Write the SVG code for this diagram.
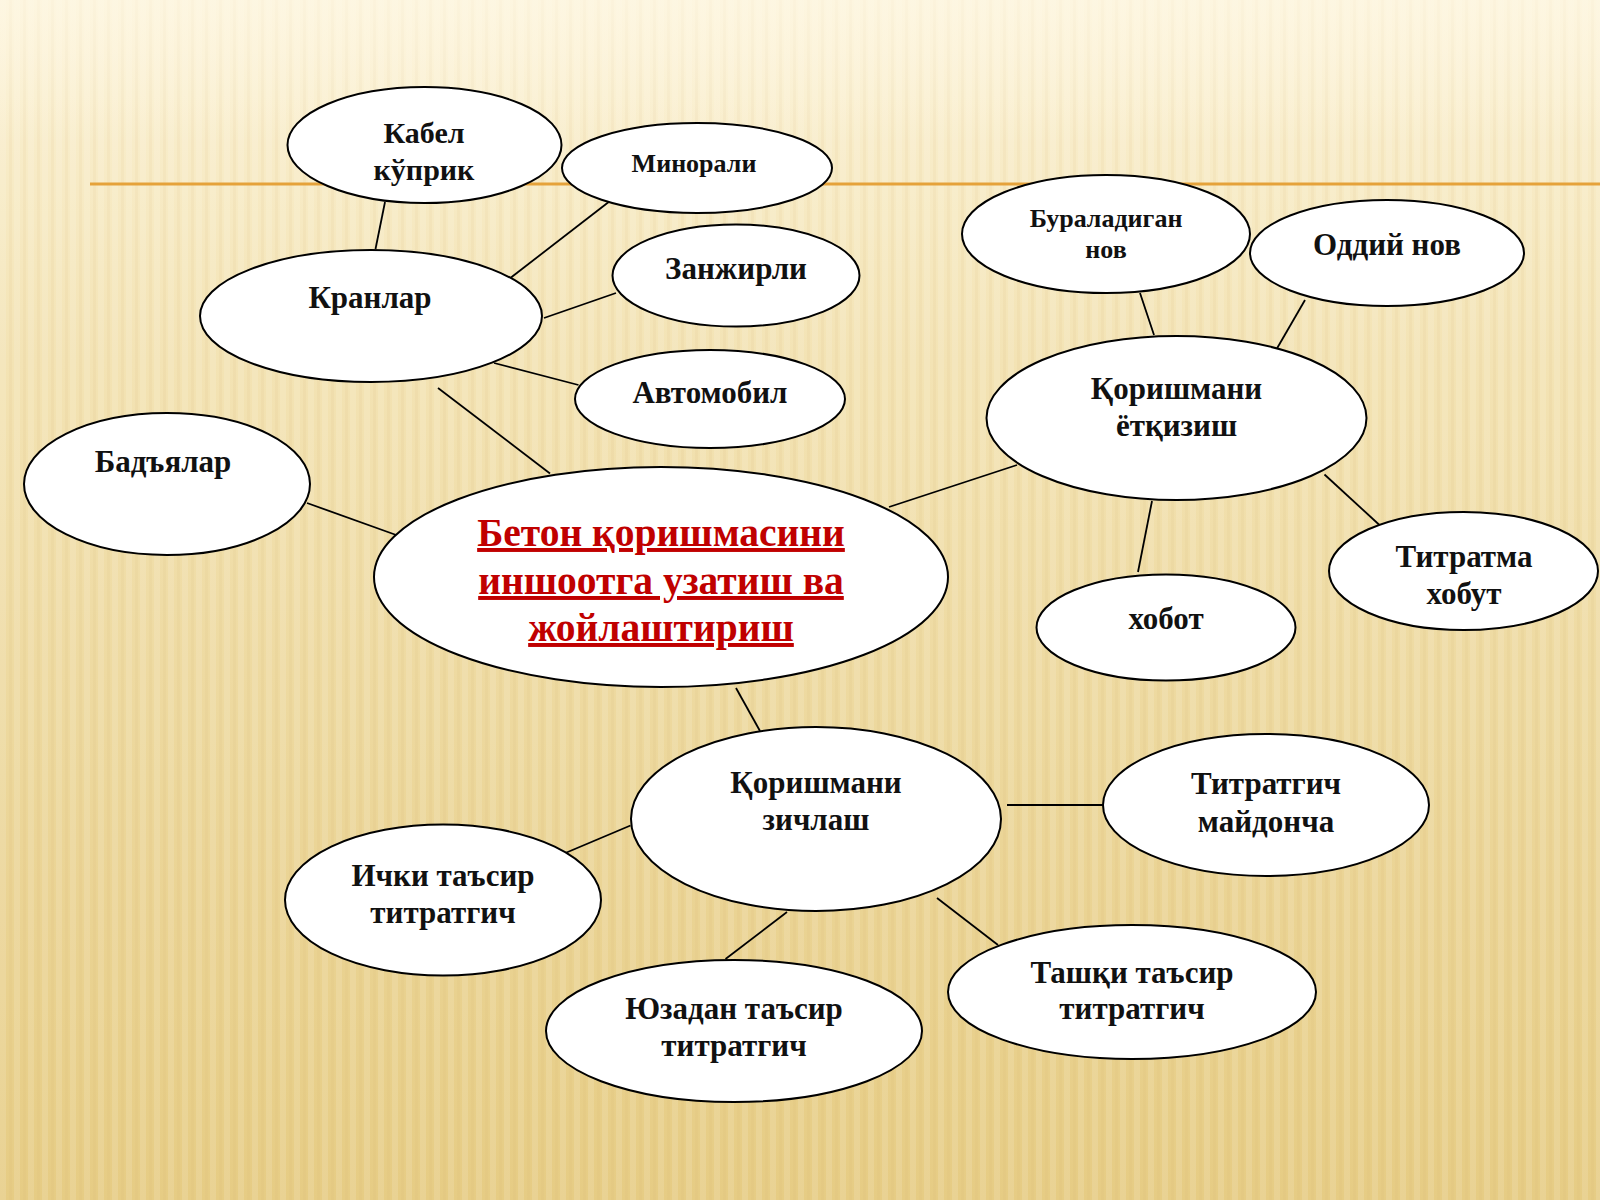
<svg xmlns="http://www.w3.org/2000/svg" width="1600" height="1200" viewBox="0 0 1600 1200">
<defs>
<linearGradient id="bg" x1="0" y1="0" x2="0" y2="1">
<stop offset="0" stop-color="#FBF2D6"/>
<stop offset="0.3" stop-color="#F3E3B4"/>
<stop offset="0.7" stop-color="#EBD597"/>
<stop offset="1" stop-color="#E6CC84"/>
</linearGradient>
<pattern id="stripes" width="14" height="1200" patternUnits="userSpaceOnUse">
<rect x="0" y="0" width="6" height="1200" fill="#FFFFFF" opacity="0.12"/>
<rect x="9" y="0" width="3" height="1200" fill="#C9A860" opacity="0.08"/>
</pattern>
<linearGradient id="fade" x1="0" y1="0" x2="0" y2="1">
<stop offset="0" stop-color="#FFF8E6" stop-opacity="0.6"/>
<stop offset="0.12" stop-color="#FFF8E6" stop-opacity="0"/>
</linearGradient>
</defs>
<style>
.n ellipse{fill:#FFFFFF;stroke:#000000;stroke-width:2}
.t{font-family:"Liberation Serif","DejaVu Serif",serif;font-weight:bold;fill:#111111;text-anchor:middle}
.r{font-family:"Liberation Serif","DejaVu Serif",serif;font-weight:bold;fill:#C00000;text-anchor:middle;text-decoration:underline;font-size:39.5px}
.c line{stroke:#000000;stroke-width:1.8}
</style>
<rect width="1600" height="1200" fill="url(#bg)"/>
<rect width="1600" height="1200" fill="url(#stripes)"/>
<rect width="1600" height="1200" fill="url(#fade)"/>
<line x1="90" y1="184" x2="1600" y2="184" stroke="#E5A23A" stroke-width="3"/>

<g id="connectors" class="c">
<line x1="385" y1="202" x2="375.5" y2="249"/>
<line x1="610" y1="201" x2="511" y2="277.5"/>
<line x1="616" y1="293" x2="544" y2="318"/>
<line x1="578.5" y1="385" x2="494" y2="363"/>
<line x1="438" y1="388" x2="550" y2="473.5"/>
<line x1="307" y1="503" x2="399" y2="536"/>
<line x1="889" y1="507" x2="1017" y2="465"/>
<line x1="1140" y1="293" x2="1154" y2="335"/>
<line x1="1305" y1="300" x2="1275.5" y2="351"/>
<line x1="1324.5" y1="474.5" x2="1380" y2="525.5"/>
<line x1="1152" y1="501" x2="1138" y2="572"/>
<line x1="736" y1="688" x2="760" y2="731"/>
<line x1="1007" y1="805" x2="1104" y2="805"/>
<line x1="630.5" y1="825.5" x2="563" y2="854"/>
<line x1="787" y1="912" x2="725.5" y2="959"/>
<line x1="937" y1="898" x2="998" y2="945"/>
</g>

<g id="kabel" class="n"><ellipse cx="424.5" cy="145" rx="137" ry="58"/>
<text class="t" x="424" y="143" font-size="30">Кабел</text>
<text class="t" x="424" y="180" font-size="30">кўприк</text></g>

<g id="minorali" class="n"><ellipse cx="697" cy="168" rx="135" ry="45"/>
<text class="t" x="694" y="172" font-size="26">Минорали</text></g>

<g id="kranlar" class="n"><ellipse cx="371" cy="316" rx="171" ry="66"/>
<text class="t" x="370" y="308" font-size="31">Кранлар</text></g>

<g id="zanjirli" class="n"><ellipse cx="736" cy="275.5" rx="123.5" ry="51"/>
<text class="t" x="736" y="279" font-size="31">Занжирли</text></g>

<g id="avtomobil" class="n"><ellipse cx="710" cy="399" rx="135" ry="49"/>
<text class="t" x="710" y="403" font-size="31">Автомобил</text></g>

<g id="badyalar" class="n"><ellipse cx="167" cy="484" rx="143" ry="71"/>
<text class="t" x="163" y="472" font-size="31">Бадъялар</text></g>

<g id="center" class="n"><ellipse cx="661" cy="577" rx="287" ry="110"/>
<text class="r" x="661" y="546">Бетон қоришмасини</text>
<text class="r" x="661" y="594">иншоотга узатиш ва</text>
<text class="r" x="661" y="641">жойлаштириш</text></g>

<g id="etqizish" class="n"><ellipse cx="1176.5" cy="418" rx="190" ry="82"/>
<text class="t" x="1176.5" y="399" font-size="31">Қоришмани</text>
<text class="t" x="1176.5" y="436" font-size="31">ётқизиш</text></g>

<g id="buraladigan" class="n"><ellipse cx="1106" cy="234" rx="144" ry="59"/>
<text class="t" x="1106" y="227" font-size="26">Бураладиган</text>
<text class="t" x="1106" y="258" font-size="26">нов</text></g>

<g id="oddiy" class="n"><ellipse cx="1387" cy="253" rx="137" ry="53"/>
<text class="t" x="1387" y="255" font-size="31">Оддий нов</text></g>

<g id="titratma" class="n"><ellipse cx="1463.5" cy="571" rx="134.5" ry="59"/>
<text class="t" x="1464" y="567" font-size="31">Титратма</text>
<text class="t" x="1464" y="604" font-size="31">хобут</text></g>

<g id="hobot" class="n"><ellipse cx="1166" cy="627.5" rx="129.5" ry="53"/>
<text class="t" x="1166" y="629" font-size="31">хобот</text></g>

<g id="zichlash" class="n"><ellipse cx="816" cy="819" rx="185" ry="92"/>
<text class="t" x="816" y="793" font-size="31">Қоришмани</text>
<text class="t" x="816" y="830" font-size="31">зичлаш</text></g>

<g id="maydoncha" class="n"><ellipse cx="1266" cy="805" rx="163" ry="71"/>
<text class="t" x="1266" y="794" font-size="31">Титратгич</text>
<text class="t" x="1266" y="832" font-size="31">майдонча</text></g>

<g id="ichki" class="n"><ellipse cx="443" cy="900" rx="158" ry="75.5"/>
<text class="t" x="443" y="886" font-size="31">Ички таъсир</text>
<text class="t" x="443" y="923" font-size="31">титратгич</text></g>

<g id="yuzadan" class="n"><ellipse cx="734" cy="1031" rx="188" ry="71"/>
<text class="t" x="734" y="1019" font-size="31">Юзадан таъсир</text>
<text class="t" x="734" y="1056" font-size="31">титратгич</text></g>

<g id="tashqi" class="n"><ellipse cx="1132" cy="992" rx="184" ry="67"/>
<text class="t" x="1132" y="983" font-size="31">Ташқи таъсир</text>
<text class="t" x="1132" y="1019" font-size="31">титратгич</text></g>
</svg>
